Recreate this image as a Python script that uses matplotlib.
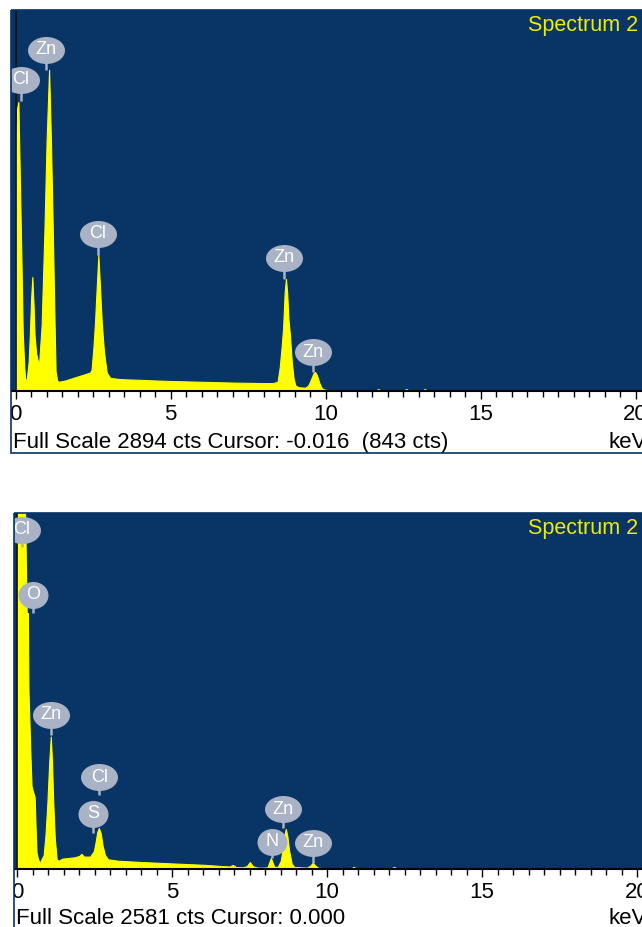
import matplotlib.pyplot as plt
from matplotlib.path import Path
from matplotlib.patches import Rectangle
from matplotlib.transforms import Affine2D
from matplotlib.ticker import MultipleLocator

plt.rcParams["font.family"] = ["Liberation Sans", "DejaVu Sans"]

# top spectrum: energy (keV) / counts
top_kev = [-0.2, 0.0, 0.01, 0.05, 0.09, 0.13, 0.18, 0.23, 0.28, 0.31,
           0.36, 0.42, 0.46, 0.50, 0.54, 0.58, 0.61, 0.66, 0.73, 0.76,
           0.84, 0.93, 1.00, 1.08, 1.14, 1.20, 1.25, 1.29, 1.34, 1.40,
           1.60, 1.80, 2.00, 2.20, 2.40, 2.45, 2.51, 2.56, 2.62, 2.67,
           2.72, 2.78, 2.85, 2.94, 3.05, 3.30, 3.60, 4.00, 4.50, 5.00,
           5.50, 6.00, 6.50, 7.00, 7.50, 8.00, 8.30, 8.45, 8.52, 8.58,
           8.63, 8.68, 8.72, 8.76, 8.80, 8.85, 8.91, 8.97, 9.03, 9.15,
           9.35, 9.45, 9.55, 9.62, 9.66, 9.72, 9.80, 9.88, 10.0, 10.5,
           11.0, 11.6, 11.7, 11.8, 12.5, 12.6, 12.7, 13.1, 13.2, 13.3,
           14.0, 20.5]
top_cts = [0, 0, 1900, 2150, 2196, 1700, 1100, 450, 180, 90,
           90, 220, 433, 700, 866, 650, 433, 290, 215, 215,
           500, 1220, 1900, 2440, 1900, 1220, 600, 150, 80, 70,
           80, 95, 110, 125, 140, 160, 330, 517, 800, 1034,
           800, 517, 300, 140, 100, 92, 88, 85, 80, 76,
           73, 70, 67, 64, 62, 60, 60, 70, 180, 330,
           480, 750, 851, 750, 550, 425, 220, 90, 40, 28,
           25, 45, 100, 140, 144, 120, 60, 20, 8, 5,
           3, 2, 15, 2, 2, 15, 2, 2, 15, 0,
           0, 0]
top_full_scale = 2894
top_status = "Full Scale 2894 cts Cursor: -0.016  (843 cts)"
top_labels = ["Cl", "Zn", "Cl", "Zn", "Zn"]
top_label_kev = [0.17, 0.98, 2.65, 8.67, 9.59]
top_label_peak = [2204, 2440, 1034, 851, 144]
top_label_center = [2364, 2592, 1193, 1011, 296]

# bottom spectrum
bot_kev = [-0.2, 0.0, 0.01, 0.10, 0.20, 0.26, 0.31, 0.33, 0.35, 0.37,
           0.39, 0.43, 0.47, 0.52, 0.57, 0.60, 0.63, 0.68, 0.74, 0.80,
           0.86, 0.92, 0.98, 1.04, 1.09, 1.13, 1.17, 1.22, 1.28, 1.34,
           1.46, 1.66, 1.86, 2.01, 2.08, 2.16, 2.36, 2.48, 2.54, 2.59,
           2.64, 2.70, 2.76, 2.84, 2.94, 3.26, 3.66, 4.06, 4.56, 5.06,
           5.56, 6.06, 6.56, 6.86, 6.96, 7.06, 7.26, 7.41, 7.51, 7.61,
           7.76, 7.96, 8.08, 8.14, 8.19, 8.24, 8.30, 8.41, 8.51, 8.58,
           8.63, 8.67, 8.72, 8.78, 8.86, 8.94, 9.16, 9.36, 9.46, 9.54,
           9.62, 9.72, 10.06, 10.76, 10.86, 10.96, 12.06, 12.16, 12.26, 13.0,
           20.5]
bot_cts = [0, 0, 3500, 4200, 3400, 2600, 1880, 1750, 1856, 1300,
           1150, 850, 600, 560, 520, 300, 120, 70, 44, 75,
           100, 250, 480, 780, 960, 780, 480, 220, 70, 60,
           75, 80, 85, 95, 110, 90, 90, 130, 200, 270,
           297, 260, 170, 100, 70, 60, 55, 50, 45, 40,
           35, 30, 22, 18, 30, 15, 12, 20, 50, 20,
           10, 10, 12, 50, 80, 50, 15, 15, 60, 160,
           250, 290, 240, 130, 40, 15, 12, 10, 25, 44,
           25, 8, 5, 3, 15, 3, 3, 15, 3, 0,
           0]
bot_full_scale = 2581
bot_status = "Full Scale 2581 cts Cursor: 0.000"
bot_labels = ["Cl", "O", "Zn", "Cl", "S", "N", "Zn", "Zn"]
bot_label_kev = [0.16, 0.52, 1.10, 2.65, 2.46, 8.23, 8.58, 9.55]
bot_label_peak = [2335, 1856, 975, 537, 261, 80, 297, 44]
bot_label_center = [2458, 1987, 1117, 667, 399, 196, 435, 189]

major_ticks = [0, 5, 10, 15, 20]

W, H = 642, 927
NAVY = "#083466"
YELLOW = "#FFFF00"
BALLOON = "#A9B3C5"

fig = plt.figure(figsize=(W / 100, H / 100), dpi=100)
pix = Affine2D().scale(1 / W, -1 / H).translate(0, 1) + fig.transFigure


def balloon_marker(w, h):
    return Path.unit_circle().transformed(Affine2D().scale(w, h))


def draw_panel(box, kev0_px, kev, cts, full, labels, lab_kev, lab_peak,
               lab_center, status, status_y, frame):
    left, top, right, bottom = box
    ax = fig.add_axes([left / W, 1 - bottom / H, (right - left) / W,
                       (bottom - top) / H])
    ax.set_facecolor(NAVY)
    ax.set_xlim((left - kev0_px) / 31.0, (right - kev0_px) / 31.0)
    ax.set_ylim(0, full)

    ax.fill_between(kev, cts, 0, color=YELLOW, lw=0.8, edgecolor=YELLOW)
    ax.axvline(0, color="#111111", lw=1.2)

    for lab, x, pk, cen in zip(labels, lab_kev, lab_peak, lab_center):
        ax.plot([x, x], [pk, cen], color=BALLOON, lw=1.8,
                solid_capstyle="butt")
        w = 37 if len(lab) > 1 else 30
        ax.plot([x], [cen], marker=balloon_marker(w, 27), ms=w * 0.72,
                color=BALLOON, mec="none", ls="none")
        ax.text(x, cen, lab, ha="center", va="center", color="white",
                fontsize=13, clip_on=True)

    for side in ["top", "right", "left"]:
        ax.spines[side].set_visible(False)
    ax.spines["bottom"].set_color("black")
    ax.spines["bottom"].set_linewidth(1.5)
    ax.set_yticks([])
    ax.set_xticks(major_ticks)
    ax.set_xticklabels([str(t) for t in major_ticks])
    ax.xaxis.set_minor_locator(MultipleLocator(0.5))
    ax.tick_params(axis="x", which="major", length=6, width=1,
                   direction="out", pad=3.6, labelsize=16)
    ax.tick_params(axis="x", which="minor", length=4, width=1,
                   direction="out")

    ax.text(528, top + 16, "Spectrum 2", transform=pix, color="#EEEE00",
            fontsize=15.5, va="center", ha="left")
    fig.text(left + 2, status_y, status, transform=pix, fontsize=16,
             va="center", ha="left")
    fig.text(608, status_y, "keV", transform=pix, fontsize=16,
             va="center", ha="left")

    fl, ft, fb = frame
    fig.patches.append(Rectangle((0, ft - 5), fl, fb - ft + 10,
                                 transform=pix, fc="white", ec="none",
                                 zorder=5))
    fig.patches.append(Rectangle((fl, ft), 700, fb - ft, transform=pix,
                                 fill=False, ec=NAVY, lw=1.2, zorder=6))
    return ax


draw_panel((11, 10, 642, 391), 15.6, top_kev, top_cts, top_full_scale,
           top_labels, top_label_kev, top_label_peak, top_label_center,
           top_status, 443, (10.5, 10, 453))
draw_panel((14, 513, 642, 869), 17.0, bot_kev, bot_cts, bot_full_scale,
           bot_labels, bot_label_kev, bot_label_peak, bot_label_center,
           bot_status, 919, (13.5, 513, 960))

fig.savefig("out.png", dpi=100)
